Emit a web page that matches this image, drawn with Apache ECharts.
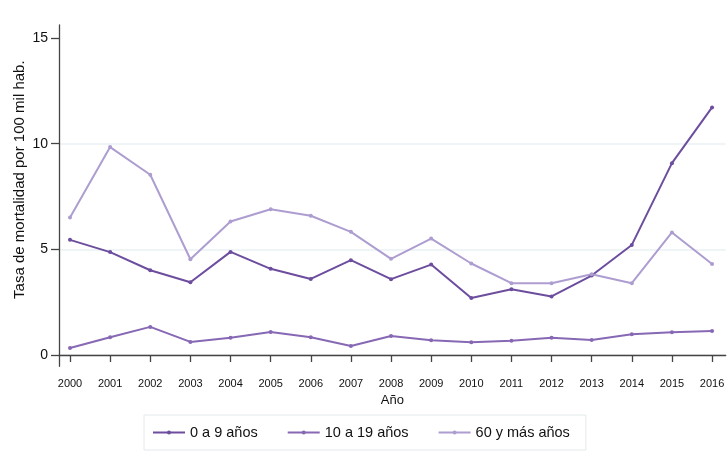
<!DOCTYPE html>
<html>
<head>
<meta charset="utf-8">
<script src="https://cdn.jsdelivr.net/npm/echarts@6/dist/echarts.min.js"></script>
<style>html,body{margin:0;padding:0;background:#fff}#c{width:727px;height:466px}</style>
</head>
<body>
<div id="c"></div>
<script>
var years = [2000,2001,2002,2003,2004,2005,2006,2007,2008,2009,2010,2011,2012,2013,2014,2015,2016];
var s0a9 = [5.45,4.87,4.01,3.44,4.88,4.08,3.60,4.49,3.59,4.28,2.70,3.11,2.77,3.76,5.21,9.08,11.72];
var s10a19 = [0.33,0.84,1.33,0.62,0.82,1.09,0.84,0.43,0.90,0.70,0.60,0.68,0.82,0.71,0.98,1.08,1.14];
var s60 = [6.51,9.84,8.53,4.53,6.32,6.90,6.59,5.83,4.55,5.51,4.33,3.40,3.40,3.82,3.40,5.80,4.31];
var yTicks = [0,5,10,15];
var names = ['0 a 9 años','10 a 19 años','60 y más años'];
var colors = ['#6c4d9e','#8768b4','#ad9dd0'];

function pairs(v){ return years.map(function(y,i){ return [y, v[i]]; }); }
function mk(name, data, color){
  return {name:name, type:'line', data:pairs(data), symbol:'circle', symbolSize:4,
    itemStyle:{color:color}, lineStyle:{color:color, width:2}, emphasis:{disabled:true}, animation:false};
}
var chart = echarts.init(document.getElementById('c'), null, {renderer:'canvas'});
chart.setOption({
  animation:false,
  textStyle:{fontFamily:'Liberation Sans, Arial, sans-serif'},
  color:colors,
  grid:{left:59, top:25, right:1.3, bottom:99.7, containLabel:false, outerBoundsMode:'none'},
  legend:{
    left:144, top:415, itemWidth:32, itemHeight:5, itemGap:29,
    padding:[10,16,10,8], borderColor:'#e3eaec', borderWidth:1,
    textStyle:{fontSize:14.5, color:'#111'},
    data:names
  },
  xAxis:{
    type:'value', min:1999.726, max:2016.34,
    name:'Año', nameLocation:'middle', nameGap:28, nameMoveOverlap:false,
    nameTextStyle:{fontSize:13, color:'#111'},
    axisLine:{show:true, lineStyle:{color:'#444', width:1.3}},
    axisTick:{show:true, length:7, customValues:years, lineStyle:{color:'#444', width:1.3}},
    axisLabel:{customValues:years, fontSize:11, color:'#111', margin:12, formatter:function(v){return String(v);}},
    splitLine:{show:false}
  },
  yAxis:{
    type:'value', min:-0.535, max:15.62,
    name:'Tasa de mortalidad por 100 mil hab.', nameLocation:'middle', nameGap:32, nameMoveOverlap:false,
    nameTextStyle:{fontSize:15, color:'#111', padding:[0,0,0,32]},
    axisLine:{show:true, lineStyle:{color:'#444', width:1.3}},
    axisTick:{show:true, length:8, customValues:yTicks, lineStyle:{color:'#444', width:1.3}},
    axisLabel:{customValues:yTicks, fontSize:14, color:'#111', margin:11},
    splitLine:{show:true, lineStyle:{color:['#eaf2f3','#eaf2f3','#eaf2f3','rgba(0,0,0,0)'], width:1.5}}
  },
  series:[mk(names[0], s0a9, colors[0]), mk(names[1], s10a19, colors[1]), mk(names[2], s60, colors[2])]
});
</script>
</body>
</html>
